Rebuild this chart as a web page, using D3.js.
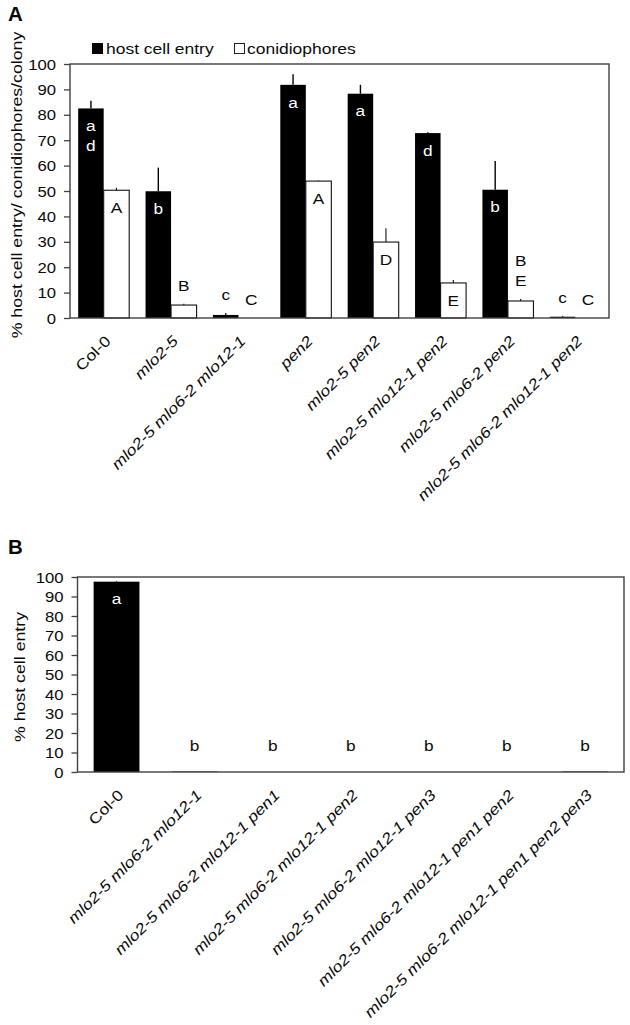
<!DOCTYPE html>
<html><head><meta charset="utf-8">
<script src="https://cdn.jsdelivr.net/npm/d3@7"></script>
<style>body{margin:0;background:#fff}svg{display:block}text{font-family:Arial,"Liberation Sans",sans-serif}</style>
</head><body>
<script>
// ---------- DATA ----------
const catsA = ["Col-0","mlo2-5","mlo2-5 mlo6-2 mlo12-1","pen2","mlo2-5 pen2","mlo2-5 mlo12-1 pen2","mlo2-5 mlo6-2 pen2","mlo2-5 mlo6-2 mlo12-1 pen2"];
const seriesA = ["host cell entry","conidiophores"];
const entryA    = [82.5, 49.9, 1.2, 91.8, 88.3, 72.8, 50.5, 0.5];
const entryErrA = [3.0, 9.3, 0.7, 4.2, 3.5, 0.3, 11.3, 0.3];
const conidA    = [50.3, 5.1, 0, 53.9, 29.9, 13.8, 6.7, 0];
const conidErrA = [1.0, 0.5, 0, 0.2, 5.4, 1.2, 0.8, 0];
const lettersEntryA = [["a","d"],["b"],["c"],["a"],["a"],["d"],["b"],["c"]];
const lettersConidA = [["A"],["B"],["C"],["A"],["D"],["E"],["B","E"],["C"]];

const catsB = ["Col-0","mlo2-5 mlo6-2 mlo12-1","mlo2-5 mlo6-2 mlo12-1 pen1","mlo2-5 mlo6-2 mlo12-1 pen2","mlo2-5 mlo6-2 mlo12-1 pen3","mlo2-5 mlo6-2 mlo12-1 pen1 pen2","mlo2-5 mlo6-2 mlo12-1 pen1 pen2 pen3"];
const entryB    = [97.6, 0.2, 0, 0, 0, 0, 0.2];
const entryErrB = [0.4, 0, 0, 0, 0, 0, 0];
const lettersB  = [["a"],["b"],["b"],["b"],["b"],["b"],["b"]];

const yTicks = [0,10,20,30,40,50,60,70,80,90,100];
const yLabelA = "% host cell entry/ conidiophores/colony";
const yLabelB = "% host cell entry";

// ---------- DRAW ----------
const W = 630, H = 1025;
const svg = d3.select("body").append("svg").attr("width", W).attr("height", H);
const INK = "#0a0a0a", FRAME = "#404040";
const SX = 1.18;

function txt(g, x, y, s, o = {}) {
  const t = g.append("text")
    .attr("transform", `translate(${x},${y}) rotate(${o.rot || 0}) scale(${o.sx || SX},1)`)
    .attr("text-anchor", o.anchor || "middle")
    .attr("font-size", o.size || 14.5)
    .attr("font-weight", o.weight || "normal")
    .attr("font-style", o.style || "normal")
    .attr("fill", o.fill || INK)
    .text(s);
  if (o.dy) t.attr("dy", o.dy);
  return t;
}

function frameAndAxis(g, y, x0, x1, y0, y1) {
  const ax = g.append("g").attr("transform", `translate(${x0},0)`)
    .call(d3.axisLeft(y).tickValues(yTicks).tickSize(6).tickFormat(d3.format("d")));
  ax.select(".domain").remove();
  ax.selectAll(".tick line").attr("stroke", FRAME).attr("stroke-width", 1.3);
  ax.selectAll(".tick text").attr("x", null).attr("dy", "0.35em")
    .attr("transform", "translate(-14,0) scale(1.15,1)")
    .attr("font-size", 14.5).attr("font-family", "Arial, 'Liberation Sans', sans-serif")
    .attr("fill", INK).attr("text-anchor", "end");
  g.append("rect").attr("x", x0).attr("y", y1).attr("width", x1 - x0).attr("height", y0 - y1)
    .attr("fill", "none").attr("stroke", FRAME).attr("stroke-width", 1.4);
}

function letters(g, cx, val, err, arr, y, inside, fill) {
  if (inside) {
    arr.forEach((s, i) => txt(g, cx, y(val) + 17.5 + i * 20, s, {dy: "0.35em", fill: fill, sx: 1.15, size: 15}));
  } else {
    const top = y(val + err) - 18;
    arr.forEach((s, i) => txt(g, cx, top - (arr.length - 1 - i) * 20, s, {dy: "0.35em", fill: INK, sx: 1.15, size: 15}));
  }
}

// ---------- Panel A ----------
{
  const g = svg.append("g");
  const x0 = 70, x1 = 609, yb = 318, yt = 64;
  const y = d3.scaleLinear().domain([0, 100]).range([yb, yt]);
  const x = d3.scaleBand().domain(catsA).range([x0, x1]);
  const xs = d3.scaleBand().domain(seriesA).range([0, x.bandwidth()]).paddingOuter(0.32);
  const bw = xs.bandwidth();

  txt(g, 8, 21, "A", {anchor: "start", size: 19.5, weight: "bold", sx: 1.05});

  // legend
  g.append("rect").attr("x", 92).attr("y", 43).attr("width", 11).attr("height", 11).attr("fill", "#000");
  txt(g, 106, 53.5, seriesA[0], {anchor: "start", size: 14.8});
  g.append("rect").attr("x", 234.5).attr("y", 43.5).attr("width", 10).attr("height", 10)
    .attr("fill", "#fff").attr("stroke", "#222").attr("stroke-width", 1);
  txt(g, 247, 53.5, seriesA[1], {anchor: "start", size: 14.8});

  // bars
  catsA.forEach((c, i) => {
    const bx = x(c) + xs(seriesA[0]);
    const wx = x(c) + xs(seriesA[1]);
    if (entryA[i] > 0) {
      g.append("rect").attr("x", bx).attr("y", y(entryA[i])).attr("width", bw)
        .attr("height", y(0) - y(entryA[i])).attr("fill", "#000");
      if (entryErrA[i] > 0)
        g.append("line").attr("x1", bx + bw / 2).attr("x2", bx + bw / 2)
          .attr("y1", y(entryA[i])).attr("y2", y(entryA[i] + entryErrA[i]))
          .attr("stroke", "#000").attr("stroke-width", 1.4);
    }
    if (conidA[i] > 0) {
      g.append("rect").attr("x", wx).attr("y", y(conidA[i])).attr("width", bw)
        .attr("height", y(0) - y(conidA[i])).attr("fill", "#fff")
        .attr("stroke", "#111").attr("stroke-width", 1.1);
      if (conidErrA[i] > 0)
        g.append("line").attr("x1", wx + bw / 2).attr("x2", wx + bw / 2)
          .attr("y1", y(conidA[i])).attr("y2", y(conidA[i] + conidErrA[i]))
          .attr("stroke", "#111").attr("stroke-width", 1.1);
    }
    letters(g, bx + bw / 2, entryA[i], entryErrA[i], lettersEntryA[i], y, entryA[i] > 20, "#fff");
    letters(g, wx + bw / 2, conidA[i], conidErrA[i], lettersConidA[i], y, conidA[i] > 10, INK);
  });

  frameAndAxis(g, y, x0, x1, yb, yt);

  // x labels
  catsA.forEach((c, i) => {
    const cx = x(c) + x.bandwidth() / 2;
    txt(g, cx + 8, yb + 24, c, {anchor: "end", rot: -45, size: 15, style: c === "Col-0" ? "normal" : "italic"});
  });

  txt(g, 22, 185, yLabelA, {rot: -90, sx: 1.2, size: 14.8});
}

// ---------- Panel B ----------
{
  const g = svg.append("g");
  const x0 = 77.5, x1 = 624, yb = 772, yt = 577;
  const y = d3.scaleLinear().domain([0, 100]).range([yb, yt]);
  const x = d3.scaleBand().domain(catsB).range([x0, x1]).paddingInner(0.413).paddingOuter(0.2065);
  const bw = x.bandwidth();

  txt(g, 8, 554, "B", {anchor: "start", size: 19.5, weight: "bold", sx: 1.05});

  catsB.forEach((c, i) => {
    const bx = x(c);
    if (entryB[i] > 0) {
      const hgt = Math.max(y(0) - y(entryB[i]), 0.8);
      g.append("rect").attr("x", bx).attr("y", y(0) - hgt).attr("width", bw)
        .attr("height", hgt).attr("fill", i === 0 ? "#000" : "#777");
      if (entryErrB[i] > 0)
        g.append("line").attr("x1", bx + bw / 2).attr("x2", bx + bw / 2)
          .attr("y1", y(entryB[i])).attr("y2", y(entryB[i] + entryErrB[i]))
          .attr("stroke", "#000").attr("stroke-width", 1.4);
    }
    const inside = entryB[i] > 20;
    letters(g, bx + bw / 2, entryB[i], entryErrB[i] + (inside ? 0 : 4), lettersB[i], y, inside, inside ? "#fff" : INK);
  });

  frameAndAxis(g, y, x0, x1, yb, yt);

  catsB.forEach((c, i) => {
    const cx = x(c) + bw / 2;
    txt(g, cx + 8, yb + 24, c, {anchor: "end", rot: -45, size: 15, style: c === "Col-0" ? "normal" : "italic"});
  });

  txt(g, 25, 677, yLabelB, {rot: -90, sx: 1.2, size: 14.8});
}
</script>
</body></html>
